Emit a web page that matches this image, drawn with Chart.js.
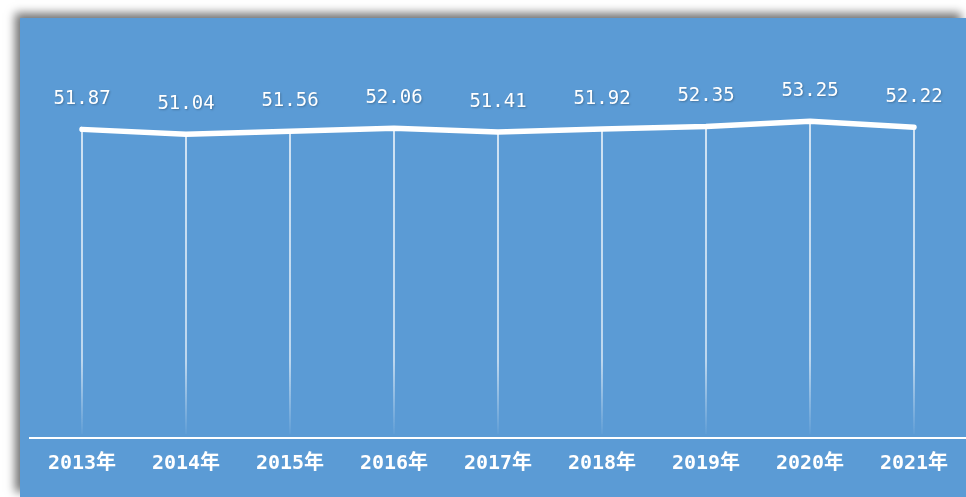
<!DOCTYPE html>
<html>
<head>
<meta charset="utf-8">
<script src="https://cdn.jsdelivr.net/npm/chart.js@4"></script>
<style>
  html, body { margin: 0; padding: 0; background: #fff; }
  body { width: 966px; height: 497px; overflow: hidden; position: relative; }
  #panel {
    position: absolute; left: 20px; top: 18px; width: 946px; height: 479px;
    background: #5b9bd5;
    box-shadow: -5px -5px 9px rgba(0, 0, 0, 0.55);
  }
  #chart { display: block; }
</style>
</head>
<body>
<div id="panel"><canvas id="chart" width="946" height="479"></canvas></div>
<script>
const years = ['2013年', '2014年', '2015年', '2016年', '2017年', '2018年', '2019年', '2020年', '2021年'];
const values = [51.87, 51.04, 51.56, 52.06, 51.41, 51.92, 52.35, 53.25, 52.22];
const yMin = 0;
const yMax = 60;

// vertical drop lines from each point to the axis, fading out at the bottom
const dropLines = {
  id: 'dropLines',
  beforeDatasetsDraw(chart) {
    const ctx = chart.ctx;
    const bottom = chart.chartArea.bottom;
    const meta = chart.getDatasetMeta(0);
    ctx.save();
    meta.data.forEach(pt => {
      const g = ctx.createLinearGradient(0, pt.y, 0, bottom);
      g.addColorStop(0, 'rgba(255,255,255,0.95)');
      g.addColorStop(0.75, 'rgba(255,255,255,0.8)');
      g.addColorStop(1, 'rgba(255,255,255,0)');
      ctx.strokeStyle = g;
      ctx.lineWidth = 1.5;
      ctx.beginPath();
      ctx.moveTo(pt.x, pt.y);
      ctx.lineTo(pt.x, bottom - 4);
      ctx.stroke();
    });
    ctx.restore();
  }
};

// value labels above the points
const valueLabels = {
  id: 'valueLabels',
  afterDatasetsDraw(chart) {
    const ctx = chart.ctx;
    const meta = chart.getDatasetMeta(0);
    ctx.save();
    ctx.font = '19px "DejaVu Sans Mono", monospace';
    ctx.fillStyle = '#fff';
    ctx.textAlign = 'center';
    ctx.textBaseline = 'middle';
    ctx.shadowColor = 'rgba(0,0,0,0.25)';
    ctx.shadowBlur = 2;
    ctx.shadowOffsetX = 1;
    ctx.shadowOffsetY = 1;
    meta.data.forEach((pt, i) => {
      ctx.fillText(values[i].toFixed(2), pt.x, pt.y - 30);
    });
    ctx.restore();
  }
};

new Chart(document.getElementById('chart'), {
  type: 'line',
  data: {
    labels: years,
    datasets: [{
      data: values,
      borderColor: '#fff',
      borderWidth: 5.5,
      borderCapStyle: 'round',
      borderJoinStyle: 'round',
      pointRadius: 0,
      tension: 0
    }]
  },
  options: {
    responsive: false,
    animation: false,
    layout: { padding: { top: 63, left: 10, right: 0, bottom: 7 } },
    plugins: { legend: { display: false }, tooltip: { enabled: false } },
    scales: {
      x: {
        offset: true,
        grid: { display: false, drawTicks: false },
        border: { display: true, color: '#fff', width: 2 },
        ticks: {
          color: '#fff',
          padding: 14,
          font: { family: '"DejaVu Sans Mono", "Noto Sans CJK SC"', size: 20, weight: 'bold' }
        }
      },
      y: {
        display: false,
        min: yMin,
        max: yMax
      }
    }
  },
  plugins: [dropLines, valueLabels]
});
</script>
</body>
</html>
